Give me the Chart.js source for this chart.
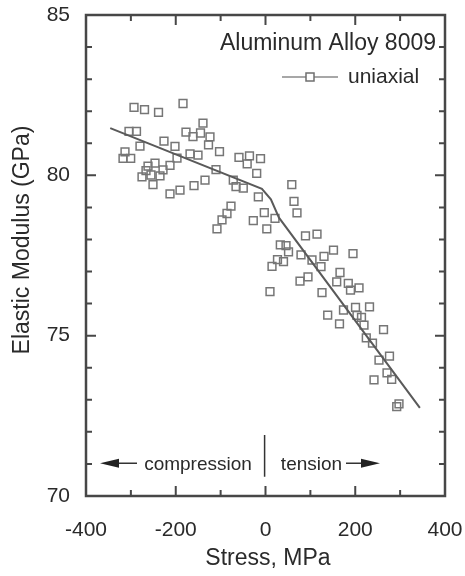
<!DOCTYPE html>
<html>
<head>
<meta charset="utf-8">
<script src="https://cdn.jsdelivr.net/npm/chart.js@4.4.1/dist/chart.umd.min.js"></script>
<style>
html,body{margin:0;padding:0;background:#fff;}
canvas{display:block;}
</style>
</head>
<body>
<canvas id="c" width="465" height="576"></canvas>
<script>
// ---- data ----
const stressMPa = [
  -293.0,-269.6,-238.4,-183.8,-304.2,-287.5,-279.7,-313.1,-317.5,-300.4,
  -226.2,-201.7,-261.8,-246.2,-266.3,-228.4,-212.8,-197.2,-275.2,-255.2,
  -235.1,-250.7,-212.8,-190.5,-159.3,-134.8,-177.2,-161.6,-144.8,-139.3,
  -168.2,-150.4,-123.7,-127.0,-102.5,-110.3,
  -71.8,-65.7,-49.5,-59.1,-35.7,-40.8,-11.1,-19.6,-16.0,
  -108.1,-96.9,-85.8,-76.9,-2.7,-27.2,21.2,2.9,58.6,63.5,70.2,
  89.1,114.8,33.0,45.7,51.3,79.1,103.6,130.4,151.5,195.0,
  14.5,26.7,40.1,123.7,76.9,94.7,10.0,125.9,166.0,158.7,
  184.5,189.4,208.4,173.8,200.6,231.8,203.9,213.9,164.9,219.5,
  263.0,138.6,224.6,238.4,252.9,276.3,270.8,281.2,241.8,292.4,297.5
];
const modulusGPa = [
  82.12,82.05,81.96,82.24,81.37,81.37,80.91,80.73,80.53,80.53,
  81.07,80.90,80.29,80.38,80.15,80.17,80.31,80.54,79.95,80.01,
  79.98,79.71,79.42,79.54,79.68,79.85,81.35,81.21,81.32,81.63,
  80.67,80.63,81.20,80.95,80.74,80.18,
  79.85,79.65,79.60,80.56,80.61,80.36,80.52,80.06,79.33,
  78.33,78.61,78.81,79.04,78.84,78.59,78.66,78.33,79.71,79.19,78.83,
  78.11,78.17,77.83,77.81,77.61,77.52,77.36,77.47,77.67,77.56,
  77.16,77.37,77.31,77.15,76.70,76.83,76.37,76.34,76.97,76.68,
  76.63,76.42,76.49,75.80,75.88,75.90,75.63,75.57,75.37,75.33,
  75.19,75.64,74.93,74.77,74.24,74.36,73.84,73.64,73.62,72.79,72.87
];
const fitStress  = [-346, -8, 12, 30, 344];
const fitModulus = [81.47, 79.58, 79.25, 78.68, 72.75];
const xTickLabels = [-400, -200, 0, 200, 400];
const yTickLabels = [70, 75, 80, 85];
const xMinorStep = 100;
const yMinorStep = 1;

const FONT = '"Liberation Sans", Arial, Helvetica, sans-serif';
const TXT = '#2a2a2a';

const scatterPts = stressMPa.map((s, i) => ({x: s, y: modulusGPa[i]}));
const fitPts = fitStress.map((s, i) => ({x: s, y: fitModulus[i]}));

const decor = {
  id: 'decor',
  beforeDraw(chart) {
    const ctx = chart.ctx;
    ctx.save();
    ctx.fillStyle = '#fff';
    ctx.fillRect(0, 0, chart.width, chart.height);
    ctx.restore();
  },
  afterDraw(chart) {
    const ctx = chart.ctx;
    const xs = chart.scales.x, ys = chart.scales.y;
    const a = chart.chartArea;
    ctx.save();
    // frame
    ctx.strokeStyle = '#474747';
    ctx.lineWidth = 2.5;
    ctx.strokeRect(a.left, a.top, a.right - a.left, a.bottom - a.top);
    // ticks (inward)
    ctx.lineWidth = 2;
    ctx.beginPath();
    for (let v = xs.min; v <= xs.max + 1e-6; v += xMinorStep) {
      const p = xs.getPixelForValue(v);
      const len = xTickLabels.includes(v) ? 10 : 6;
      ctx.moveTo(p, a.bottom); ctx.lineTo(p, a.bottom - len);
      ctx.moveTo(p, a.top); ctx.lineTo(p, a.top + len);
    }
    for (let v = ys.min; v <= ys.max + 1e-6; v += yMinorStep) {
      const p = ys.getPixelForValue(v);
      const len = yTickLabels.includes(v) ? 10 : 6;
      ctx.moveTo(a.left, p); ctx.lineTo(a.left + len, p);
      ctx.moveTo(a.right, p); ctx.lineTo(a.right - len, p);
    }
    ctx.stroke();

    // title inside plot
    ctx.fillStyle = TXT;
    ctx.textBaseline = 'middle';
    ctx.font = '23px ' + FONT;
    ctx.textAlign = 'right';
    ctx.fillText('Aluminum Alloy 8009', 436, 44);

    // legend
    ctx.strokeStyle = '#8a8a8a';
    ctx.lineWidth = 1.5;
    ctx.beginPath();
    ctx.moveTo(282, 77); ctx.lineTo(338, 77);
    ctx.stroke();
    ctx.fillStyle = '#fff';
    ctx.fillRect(306, 73, 8, 8);
    ctx.strokeStyle = '#6f6f6f';
    ctx.strokeRect(306, 73, 8, 8);
    ctx.fillStyle = TXT;
    ctx.textAlign = 'left';
    ctx.font = '21px ' + FONT;
    ctx.fillText('uniaxial', 348, 77);

    // compression / tension annotation
    const yA = ys.getPixelForValue(71.02);
    ctx.font = '19px ' + FONT;
    ctx.textAlign = 'center';
    ctx.fillText('compression', 198, yA + 1);
    ctx.fillText('tension', 311.5, yA + 1);
    ctx.strokeStyle = '#333';
    ctx.lineWidth = 1.5;
    ctx.beginPath();
    ctx.moveTo(112, yA); ctx.lineTo(137, yA);
    ctx.moveTo(346, yA); ctx.lineTo(368, yA);
    const xSep = xs.getPixelForValue(-2);
    ctx.moveTo(xSep, ys.getPixelForValue(71.9));
    ctx.lineTo(xSep, ys.getPixelForValue(70.6));
    ctx.stroke();
    ctx.fillStyle = '#222';
    ctx.beginPath();
    ctx.moveTo(100, yA); ctx.lineTo(119, yA - 4.5); ctx.lineTo(119, yA + 4.5); ctx.closePath();
    ctx.moveTo(380, yA); ctx.lineTo(361, yA - 4.5); ctx.lineTo(361, yA + 4.5); ctx.closePath();
    ctx.fill();

    // axis titles
    ctx.fillStyle = TXT;
    ctx.font = '23px ' + FONT;
    ctx.textAlign = 'center';
    ctx.fillText('Stress, MPa', 268, 559);
    ctx.translate(23, 240);
    ctx.rotate(-Math.PI / 2);
    ctx.fillText('Elastic Modulus (GPa)', 0, 0);
    ctx.restore();
  }
};

new Chart(document.getElementById('c'), {
  type: 'scatter',
  data: {
    datasets: [
      {
        label: 'uniaxial',
        data: scatterPts,
        showLine: false,
        pointStyle: 'rect',
        pointRadius: 5.5,
        pointBorderWidth: 1.5,
        borderColor: '#767676',
        backgroundColor: 'rgba(255,255,255,0)',
        order: 2
      },
      {
        label: 'fit',
        data: fitPts,
        showLine: true,
        pointRadius: 0,
        borderColor: '#5a5a5a',
        borderWidth: 2,
        tension: 0,
        fill: false,
        order: 1
      }
    ]
  },
  options: {
    responsive: false,
    devicePixelRatio: 1,
    animation: false,
    layout: {padding: {left: 0, top: 15, right: 20, bottom: 0}},
    plugins: {legend: {display: false}, tooltip: {enabled: false}, title: {display: false}},
    scales: {
      x: {
        type: 'linear', min: -400, max: 400,
        grid: {display: false}, border: {display: false},
        ticks: {stepSize: 200, color: TXT, font: {family: FONT, size: 21}, padding: 14, maxRotation: 0,
                callback: v => xTickLabels.includes(v) ? String(v) : ''},
        afterFit: s => { s.height = 80; s.paddingLeft = 0; s.paddingRight = 0; }
      },
      y: {
        type: 'linear', min: 70, max: 85,
        grid: {display: false}, border: {display: false},
        ticks: {stepSize: 5, color: TXT, font: {family: FONT, size: 21}, padding: 8,
                callback: v => yTickLabels.includes(v) ? String(v) : ''},
        afterFit: s => { s.width = 86; s.paddingTop = 0; s.paddingBottom = 0; }
      }
    }
  },
  plugins: [decor]
});
</script>
</body>
</html>
